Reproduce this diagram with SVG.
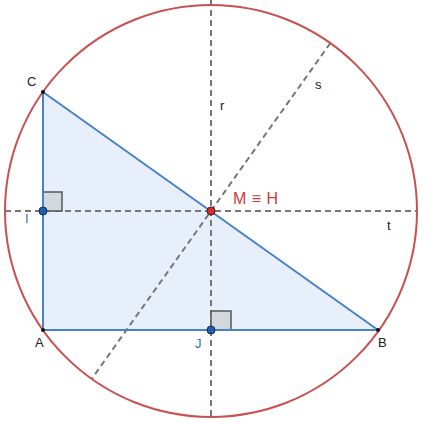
<svg xmlns="http://www.w3.org/2000/svg" width="436" height="424" viewBox="0 0 436 424">
<style>
.dash{stroke:#767676;stroke-width:2;stroke-dasharray:6,4;fill:none}
.lbl{font-family:"Liberation Sans",Arial,sans-serif;font-size:13px;fill:#222}
.blbl{font-family:"Liberation Sans",Arial,sans-serif;font-size:13px;fill:#3a6ea5}
.ra{fill:#d3d8df;stroke:#555;stroke-width:1.5}
.pt{fill:#2060b0;stroke:#1a2a50;stroke-width:1}
</style>
<rect width="436" height="424" fill="#fff"/>
<g id="triangle">
<polygon points="43,92 43,330 378,330" fill="#e6effa" stroke="none"/>
</g>
<g id="connectors">
<line id="r" class="dash" x1="211" y1="0" x2="211" y2="417"/>
<line id="t" class="dash" x1="5" y1="211" x2="417" y2="211"/>
<line id="s" class="dash" x1="330.3" y1="43.1" x2="91.7" y2="378.9"/>
</g>
<g id="right-angles">
<rect class="ra" x="43" y="192" width="19" height="19"/>
<rect class="ra" x="211" y="311" width="20" height="19"/>
</g>
<g id="sides" stroke="#4a80c4" stroke-width="2" fill="none">
<line x1="43" y1="92" x2="43" y2="330"/>
<line x1="43" y1="330" x2="378" y2="330"/>
<line x1="43" y1="92" x2="378" y2="330"/>
</g>
<g id="circle">
<circle cx="211" cy="211" r="206" fill="none" stroke="#c85050" stroke-width="2"/>
</g>
<g id="C"><circle cx="43" cy="92" r="2" fill="#111"/><text class="lbl" x="27" y="86">C</text></g>
<g id="A"><circle cx="43" cy="330" r="2" fill="#111"/><text class="lbl" x="35" y="347">A</text></g>
<g id="B"><circle cx="378" cy="330" r="2" fill="#111"/><text class="lbl" x="378" y="347">B</text></g>
<g id="I"><circle class="pt" cx="43" cy="211" r="4"/><text class="blbl" x="25" y="223">I</text></g>
<g id="J"><circle class="pt" cx="211" cy="330" r="4"/><text class="blbl" x="195" y="348">J</text></g>
<g id="M"><circle cx="211" cy="211" r="4" fill="#d03030" stroke="#601010" stroke-width="1"/><text x="233" y="204" font-family="'Liberation Sans',Arial,sans-serif" font-size="16" letter-spacing="0.5" fill="#d03a3a">M ≡ H</text></g>
<g id="labels">
<text class="lbl" x="220" y="110">r</text>
<text class="lbl" x="315" y="89">s</text>
<text class="lbl" x="387" y="230">t</text>
</g>
</svg>
